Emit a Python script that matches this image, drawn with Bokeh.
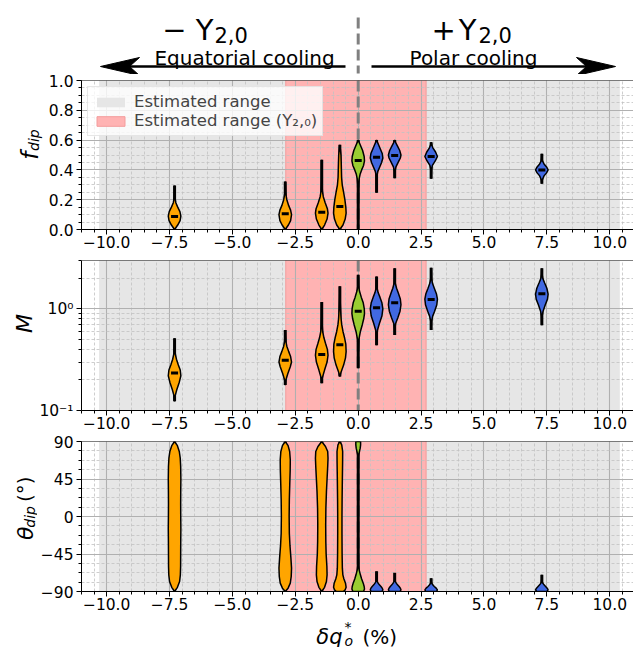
import numpy as np
from bokeh.plotting import figure
from bokeh.layouts import column, row
from bokeh.models import (FixedTicker, CustomJSTickFormatter, Label, Span,
                          Legend, LegendItem, Range1d)
from bokeh.embed import file_html
from bokeh.resources import INLINE

FONT = "DejaVu Sans"

# ---------------- data ----------------
positions = [-7.3, -2.9, -1.45, -0.73, 0.0, 0.73, 1.45, 2.9, 7.3]
fill_colors = ["#FFA500"] * 4 + ["#9ACD32"] + ["#4169E1"] * 4

gray_range = [-10.3, 10.4]
pink_range = [-2.88, 2.70]

x_ticks = [-10.0, -7.5, -5.0, -2.5, 0.0, 2.5, 5.0, 7.5, 10.0]
fdip_ticks = [0.0, 0.2, 0.4, 0.6, 0.8, 1.0]
M_ticks = [0.1, 1.0]
M_minor = [0.2, 0.3, 0.4, 0.5, 0.6, 0.7, 0.8, 0.9, 2.0, 3.0]
theta_ticks = [-90, -45, 0, 45, 90]

# f_dip panel
fdip_min = [0.0, 0.0, 0.0, 0.0, 0.0, 0.246, 0.344, 0.34, 0.307]
fdip_max = [0.295, 0.322, 0.468, 0.568, 0.60, 0.60, 0.60, 0.586, 0.508]
fdip_med = [0.087, 0.105, 0.116, 0.154, 0.463, 0.485, 0.497, 0.49, 0.40]
fdip_prof_y = [
    [0.0, 0.03, 0.06, 0.09, 0.12, 0.15, 0.18, 0.21, 0.25, 0.295],
    [0.0, 0.03, 0.06, 0.1, 0.13, 0.16, 0.2, 0.24, 0.28, 0.322],
    [0.0, 0.03, 0.07, 0.11, 0.14, 0.18, 0.22, 0.26, 0.32, 0.4, 0.468],
    [0.0, 0.03, 0.07, 0.11, 0.15, 0.2, 0.25, 0.3, 0.35, 0.4, 0.45, 0.5, 0.54, 0.568],
    [0.0, 0.15, 0.25, 0.3, 0.34, 0.37, 0.4, 0.43, 0.46, 0.49, 0.53, 0.57, 0.6],
    [0.246, 0.3, 0.36, 0.39, 0.42, 0.45, 0.48, 0.51, 0.54, 0.57, 0.6],
    [0.344, 0.39, 0.42, 0.45, 0.48, 0.5, 0.53, 0.56, 0.58, 0.6],
    [0.34, 0.4, 0.43, 0.46, 0.49, 0.52, 0.55, 0.57, 0.586],
    [0.307, 0.33, 0.36, 0.38, 0.40, 0.42, 0.44, 0.46, 0.48, 0.508],
]
fdip_prof_w = [
    [0.0, 0.5, 0.88, 1.0, 0.85, 0.5, 0.2, 0.07, 0.02, 0.0],
    [0.0, 0.5, 0.85, 1.0, 0.85, 0.55, 0.25, 0.08, 0.03, 0.0],
    [0.0, 0.45, 0.85, 1.0, 0.9, 0.55, 0.25, 0.1, 0.04, 0.02, 0.0],
    [0.0, 0.5, 0.85, 1.0, 0.95, 0.8, 0.6, 0.38, 0.28, 0.25, 0.22, 0.18, 0.08, 0.0],
    [0.0, 0.02, 0.04, 0.07, 0.15, 0.3, 0.55, 0.85, 1.0, 0.95, 0.7, 0.3, 0.0],
    [0.0, 0.02, 0.06, 0.2, 0.5, 0.8, 1.0, 0.9, 0.6, 0.3, 0.0],
    [0.0, 0.05, 0.2, 0.55, 0.9, 1.0, 0.8, 0.45, 0.2, 0.0],
    [0.0, 0.04, 0.2, 0.65, 1.0, 0.7, 0.25, 0.07, 0.0],
    [0.0, 0.05, 0.35, 0.75, 1.0, 0.75, 0.35, 0.1, 0.03, 0.0],
]

# M panel
M_min = [0.123, 0.178, 0.186, 0.216, 0.26, 0.44, 0.553, 0.62, 0.69]
M_max = [0.514, 0.62, 1.17, 1.67, 2.17, 2.09, 2.52, 2.54, 2.52]
M_med = [0.234, 0.313, 0.355, 0.445, 0.95, 1.03, 1.15, 1.24, 1.41]
M_prof_y = [
    [0.123, 0.14, 0.16, 0.19, 0.22, 0.25, 0.28, 0.32, 0.36, 0.42, 0.514],
    [0.178, 0.2, 0.23, 0.27, 0.3, 0.34, 0.38, 0.43, 0.48, 0.55, 0.62],
    [0.186, 0.21, 0.25, 0.3, 0.35, 0.4, 0.46, 0.52, 0.6, 0.7, 0.85, 1.17],
    [0.216, 0.24, 0.28, 0.33, 0.38, 0.45, 0.52, 0.6, 0.7, 0.8, 0.95, 1.1, 1.3, 1.67],
    [0.26, 0.4, 0.5, 0.6, 0.7, 0.8, 0.9, 1.0, 1.15, 1.3, 1.5, 1.7, 2.17],
    [0.44, 0.55, 0.62, 0.72, 0.85, 1.0, 1.15, 1.3, 1.45, 1.6, 1.8, 2.09],
    [0.553, 0.65, 0.72, 0.82, 0.95, 1.1, 1.25, 1.45, 1.6, 1.8, 2.1, 2.52],
    [0.62, 0.75, 0.85, 0.95, 1.1, 1.25, 1.4, 1.6, 1.8, 2.0, 2.54],
    [0.69, 0.85, 0.95, 1.1, 1.25, 1.4, 1.6, 1.8, 2.0, 2.2, 2.52],
]
M_prof_w = [
    [0.0, 0.1, 0.35, 0.75, 1.0, 0.9, 0.6, 0.3, 0.12, 0.04, 0.0],
    [0.0, 0.1, 0.4, 0.8, 1.0, 0.85, 0.55, 0.25, 0.1, 0.03, 0.0],
    [0.0, 0.1, 0.45, 0.85, 1.0, 0.9, 0.6, 0.35, 0.15, 0.07, 0.03, 0.0],
    [0.0, 0.2, 0.6, 0.9, 1.0, 0.95, 0.75, 0.5, 0.3, 0.2, 0.13, 0.08, 0.03, 0.0],
    [0.0, 0.02, 0.1, 0.35, 0.65, 0.88, 1.0, 0.97, 0.8, 0.5, 0.2, 0.05, 0.0],
    [0.0, 0.05, 0.15, 0.45, 0.85, 1.0, 0.85, 0.55, 0.25, 0.08, 0.02, 0.0],
    [0.0, 0.05, 0.15, 0.5, 0.85, 1.0, 0.9, 0.55, 0.3, 0.08, 0.02, 0.0],
    [0.0, 0.05, 0.25, 0.55, 0.9, 1.0, 0.85, 0.5, 0.2, 0.06, 0.0],
    [0.0, 0.05, 0.2, 0.55, 0.9, 1.0, 0.8, 0.45, 0.15, 0.04, 0.0],
]

# theta panel
theta_min = [-90, -90, -90, -90, -90, -90, -90, -90, -90]
theta_max = [90, 90, 90, 90, 90, -65.6, -67.6, -74.0, -70.0]
theta_prof_y = [
    [-90, -85, -78, -70, -60, -45, -30, -15, 0, 15, 30, 45, 60, 70, 78, 85, 90],
    [-90, -86, -80, -72, -62, -50, -35, -20, 0, 20, 40, 55, 68, 78, 85, 90],
    [-90, -85, -78, -70, -60, -45, -30, -10, 10, 30, 45, 60, 70, 78, 84, 90],
    [-90, -88, -85, -80, -75, -70, -62, -45, -20, 0, 20, 45, 65, 78, 86, 90],
    [-90, -87, -84, -80, -75, -70, -64, -58, -50, 60, 70, 74, 78, 82, 86, 90],
    [-90, -88, -86, -84, -82, -80, -78, -76, -72, -66],
    [-90, -88, -86, -84, -82, -80, -78, -76, -72, -68],
    [-90, -88, -86, -84, -82, -80, -78, -74],
    [-90, -88, -86, -84, -82, -80, -78, -74, -70],
]
theta_prof_w = [
    [0, 0.45, 0.8, 0.92, 0.96, 0.97, 0.98, 1.0, 0.98, 0.97, 0.98, 1.0, 0.97, 0.9, 0.75, 0.45, 0],
    [0, 0.45, 0.8, 0.95, 1.0, 0.9, 0.75, 0.65, 0.62, 0.65, 0.72, 0.78, 0.8, 0.7, 0.45, 0],
    [0, 0.45, 0.75, 0.85, 0.82, 0.7, 0.65, 0.63, 0.66, 0.75, 0.85, 0.95, 1.0, 0.95, 0.6, 0],
    [0.55, 0.85, 1.0, 0.9, 0.65, 0.48, 0.4, 0.36, 0.34, 0.34, 0.36, 0.4, 0.44, 0.45, 0.3, 0],
    [0.85, 1.0, 0.95, 0.8, 0.55, 0.35, 0.15, 0.05, 0.01, 0.01, 0.02, 0.08, 0.2, 0.32, 0.38, 0.38],
    [0.85, 1.0, 0.9, 0.7, 0.45, 0.25, 0.1, 0.03, 0.01, 0],
    [0.85, 1.0, 0.9, 0.7, 0.45, 0.25, 0.1, 0.03, 0.01, 0],
    [0.85, 1.0, 0.8, 0.5, 0.25, 0.08, 0.02, 0],
    [0.8, 1.0, 0.85, 0.6, 0.35, 0.15, 0.05, 0.01, 0],
]

# ---------------- layout constants (pixels) ----------------
W_TOTAL = 633
FRAME_LEFT = 81
H_HEAD = 74
H1, H2, H3 = 186, 174, 181
H_XLAB = 32
XFMT = "return (tick < 0 ? '\u2212' : '') + Math.abs(tick).toFixed(1);"


def make_fig(wlab, height, top, bottom, y_range, y_type="linear"):
    return figure(width=W_TOTAL - wlab, height=height, x_range=Range1d(-11, 10.944),
                  y_range=y_range, y_axis_type=y_type, output_backend="svg",
                  toolbar_location=None, min_border_left=FRAME_LEFT - wlab,
                  min_border_right=0, min_border_top=top, min_border_bottom=bottom,
                  outline_line_color=None, background_fill_color="white",
                  border_fill_color="white")


def blank_fig(width, height):
    p = figure(width=width, height=height, x_range=Range1d(0, width),
               y_range=Range1d(height, 0), output_backend="svg", toolbar_location=None,
               x_axis_location=None, y_axis_location=None, min_border=0,
               min_border_left=0, min_border_right=0, min_border_top=0, min_border_bottom=0,
               outline_line_color=None, background_fill_color="white",
               border_fill_color="white")
    for g in p.grid:
        g.visible = False
    return p


def style(p, yticks, yminor, yfmt, ytop):
    p.xaxis.ticker = FixedTicker(ticks=x_ticks, minor_ticks=list(np.arange(-11.0, 11.01, 0.5)))
    p.xaxis.formatter = CustomJSTickFormatter(code=XFMT)
    p.yaxis.ticker = FixedTicker(ticks=yticks, minor_ticks=yminor)
    p.yaxis.formatter = CustomJSTickFormatter(code=yfmt)
    for ax in (p.xaxis[0], p.yaxis[0]):
        ax.axis_line_color = "black"
        ax.axis_line_width = 1
        ax.major_tick_line_color = "black"
        ax.minor_tick_line_color = "black"
        ax.major_tick_out = 5
        ax.major_tick_in = 0
        ax.minor_tick_out = 3
        ax.minor_tick_in = 0
        ax.major_label_text_font = FONT
        ax.major_label_text_font_size = "15.5px"
        ax.major_label_text_color = "black"
    p.xaxis.major_label_standoff = 1
    p.yaxis.major_label_standoff = 3
    for g in (p.xgrid[0], p.ygrid[0]):
        g.grid_line_color = "#b0b0b0"
        g.grid_line_width = 1.1
        g.minor_grid_line_color = "#c2c2c2"
        g.minor_grid_line_dash = "3 2"
        g.minor_grid_line_width = 0.8
    p.add_layout(Span(location=ytop, dimension="width", line_color="black", line_width=1))


def spans(p, lo, hi):
    g = p.quad(left=[gray_range[0]], right=[gray_range[1]], bottom=[lo], top=[hi],
               fill_color="#e6e6e6", line_color=None, level="image")
    k = p.quad(left=[pink_range[0]], right=[pink_range[1]], bottom=[lo], top=[hi],
               fill_color="#ffb3b3", line_color="#f39c9c", line_width=1, level="image")
    p.add_layout(Span(location=0, dimension="height", line_color="#808080",
                      line_width=3, line_dash="11 5", level="underlay"))
    return g, k


def violins(p, prof_y, prof_w, vmin, vmax, vmed=None):
    xs, ys = [], []
    for pos, yy, ww in zip(positions, prof_y, prof_w):
        xs.append([pos + 0.25 * w for w in ww] + [pos - 0.25 * w for w in ww[::-1]])
        ys.append(list(yy) + list(yy[::-1]))
    p.segment(x0=positions, y0=vmin, x1=positions, y1=vmax, line_color="black", line_width=3)
    p.patches(xs, ys, fill_color=fill_colors, line_color="black", line_width=1.5)
    if vmed is not None:
        p.segment(x0=[x - 0.14 for x in positions], y0=vmed,
                  x1=[x + 0.14 for x in positions], y1=vmed,
                  line_color="black", line_width=3)


def lab(p, text, x, y, size, italic=False, align="left", angle=0.0, color="black"):
    p.add_layout(Label(x=x, y=y, text=text, text_font=FONT, text_font_size=size,
                       text_font_style="italic" if italic else "normal",
                       text_align=align, text_baseline="alphabetic", angle=angle,
                       text_color=color))


ROT = np.pi / 2

# ---------------- header ----------------
head = blank_fig(W_TOTAL, H_HEAD)
lab(head, "\u2212 Y", 213, 29, "29px", align="right")
lab(head, "2,0", 214, 34, "21px")
lab(head, "+\u200aY", 476, 29, "29px", align="right")
lab(head, "2,0", 478, 34, "21px")
lab(head, "Equatorial cooling", 244, 57, "20px", align="center")
lab(head, "Polar cooling", 473, 57, "20px", align="center")
head.segment(x0=[345, 371], y0=[66, 66], x1=[128, 587], y1=[66, 66],
             line_color="black", line_width=2.5)
head.patches(xs=[[100, 139, 129, 139], [615, 576, 586, 576]],
             ys=[[66, 57, 66, 75], [66, 57, 66, 75]],
             fill_color="black", line_color="black", line_width=1)
head.segment(x0=[357.7], y0=[17], x1=[357.7], y1=[73], line_color="#808080",
             line_width=3, line_dash="11 5")

# ---------------- panel 1: f_dip ----------------
W1 = 44
p1 = make_fig(W1, H1, 6, 31, Range1d(0, 1))
style(p1, fdip_ticks, [round(v, 2) for v in np.arange(0, 1.001, 0.05)],
      "return tick.toFixed(1);", 1.0)
g1, k1 = spans(p1, -1, 3)
violins(p1, fdip_prof_y, fdip_prof_w, fdip_min, fdip_max, fdip_med)
legend = Legend(items=[LegendItem(label="Estimated range", renderers=[g1]),
                       LegendItem(label="Estimated range (Y\u2082,\u2080)", renderers=[k1])],
                location="top_left", margin=6, padding=5, spacing=0,
                glyph_width=35, glyph_height=12, label_standoff=6,
                label_text_font=FONT, label_text_font_size="16.5px",
                background_fill_color="white", background_fill_alpha=0.8,
                border_line_color="#d0d0d0", border_line_width=1)
p1.add_layout(legend)
lab1 = blank_fig(W1, H1)
lab(lab1, "f", 29, 173 - 74, "23px", italic=True, angle=ROT)
lab(lab1, "dip", 33, 162 - 74, "14px", italic=True, angle=ROT)

# ---------------- panel 2: M ----------------
W2 = 36
p2 = make_fig(W2, H2, 0, 24, Range1d(0.1, 3.0), y_type="log")
style(p2, M_ticks, M_minor, "return tick > 0.5 ? '10\u2070' : '10\u207b\u00b9';", 3.0)
spans(p2, 0.01, 100)
violins(p2, M_prof_y, M_prof_w, M_min, M_max, M_med)
lab2 = blank_fig(W2, H2)
lab(lab2, "M", 23.5, 344 - 260, "22px", italic=True, angle=ROT)

# ---------------- panel 3: theta ----------------
W3 = 37
p3 = make_fig(W3, H3, 7, 24, Range1d(-90, 90))
style(p3, theta_ticks, [round(v, 2) for v in np.arange(-90, 90.01, 11.25)],
      "return (tick < 0 ? '\u2212' : '') + Math.abs(tick).toFixed(0);", 90)
spans(p3, -1000, 1000)
violins(p3, theta_prof_y, theta_prof_w, theta_min, theta_max)
lab3 = blank_fig(W3, H3)
lab(lab3, "\u03b8", 24.5, 553 - 434, "22px", italic=True, angle=ROT)
lab(lab3, "dip", 29, 538 - 434, "14px", italic=True, angle=ROT)
lab(lab3, "(\u00b0)", 24.5, 507 - 434, "20px", angle=ROT)

# ---------------- x label ----------------
xlab = blank_fig(W_TOTAL, H_XLAB)
lab(xlab, "\u03b4q", 342, 636 - 615, "21px", italic=True, align="right")
lab(xlab, "*", 344, 626 - 615, "14px")
lab(xlab, "o", 344, 640 - 615, "14px", italic=True)
lab(xlab, "(%)", 362, 636 - 615, "20px")

layout = column(head, row(lab1, p1, spacing=0), row(lab2, p2, spacing=0),
                row(lab3, p3, spacing=0), xlab, spacing=0)
open("out.html", "w").write(file_html(layout, INLINE))
